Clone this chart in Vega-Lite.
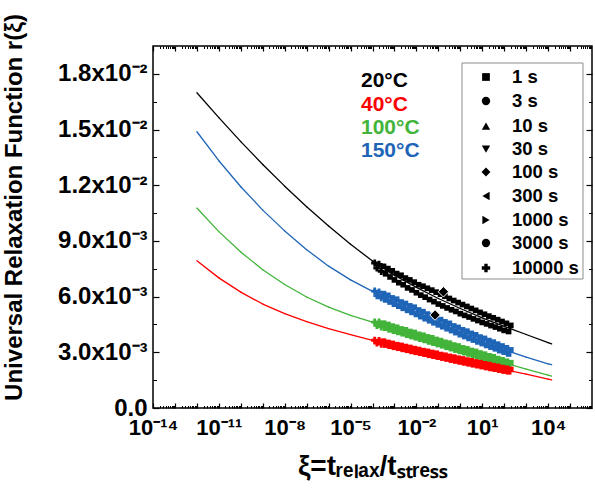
{
"$schema": "https://vega.github.io/schema/vega-lite/v6.json",
"width": 439, "height": 362,
"autosize": {"type": "none"},
"padding": {"left": 153, "top": 46, "right": 3, "bottom": 83},
"background": "white",
"config": {"view": {"stroke": "black", "strokeWidth": 1.5}, "axis": {"grid": false, "domain": false, "tickColor": "black", "labelColor": "black", "titleColor": "black"}},
"encoding": {
 "x": {"field": "xi", "type": "quantitative", "scale": {"type": "log", "domain": [1e-14, 1e6], "nice": false}, "axis": null},
 "y": {"field": "r", "type": "quantitative", "scale": {"domain": [0, 0.0195], "nice": false}, "axis": null}
},
"layer": [
{"data": {"values": [{"xi": 1, "r": 0.01}]},
 "mark": {"type": "point", "opacity": 0},
 "encoding": {
  "x": {"field": "xi", "type": "quantitative", "scale": {"type": "log", "domain": [1e-14, 1e6], "nice": false},
   "axis": {"orient": "bottom", "values": [1e-14,1e-13,1e-12,1e-11,1e-10,1e-9,1e-8,1e-7,1e-6,1e-5,1e-4,1e-3,1e-2,1e-1,1,10,100,1000,10000,100000],
    "tickSize": -5, "tickWidth": 1.2, "labelFlush": false, "labelOverlap": false, "labelPadding": 14, "labelFontSize": 22, "labelFont": "Liberation Sans", "labelFontWeight": "bold",
    "labelExpr": "round(log(datum.value)/LN10) == -14 ? '10⁻¹⁴' : round(log(datum.value)/LN10) == -11 ? '10⁻¹¹' : round(log(datum.value)/LN10) == -8 ? '10⁻⁸' : round(log(datum.value)/LN10) == -5 ? '10⁻⁵' : round(log(datum.value)/LN10) == -2 ? '10⁻²' : round(log(datum.value)/LN10) == 1 ? '10¹' : round(log(datum.value)/LN10) == 4 ? '10⁴' : ''",
    "title": "ξ=tᵣₑₗₐₓ/tₛₜᵣₑₛₛ", "titleFont": "Liberation Sans", "titleFontSize": 28, "titleFontWeight": "bold", "titleY": 66, "titleBaseline": "alphabetic"}},
  "y": {"field": "r", "type": "quantitative", "scale": {"domain": [0, 0.0195], "nice": false},
   "axis": {"orient": "left", "values": [0,0.003,0.006,0.009,0.012,0.015,0.018],
    "tickSize": -6, "tickWidth": 1.2, "labelOverlap": false, "labelPadding": 12, "labelFontSize": 24, "labelFont": "Liberation Sans", "labelFontWeight": "bold",
    "labelExpr": "datum.value < 0.001 ? '0.0' : datum.value < 0.0045 ? '3.0x10⁻³' : datum.value < 0.0075 ? '6.0x10⁻³' : datum.value < 0.0105 ? '9.0x10⁻³' : datum.value < 0.0135 ? '1.2x10⁻²' : datum.value < 0.0165 ? '1.5x10⁻²' : '1.8x10⁻²'",
    "title": "Universal Relaxation Function r(ξ)", "titleFont": "Liberation Sans", "titleFontSize": 24, "titleFontWeight": "bold", "titleX": -139, "titleY": 161, "titleAngle": -90, "titleBaseline": "middle", "titleAlign": "center"}}
 }},
{"data": {"values": [
{"xi":1e-12,"r":0.01698,"xi2":1e-11,"r2":0.01564},{"xi":1e-11,"r":0.01564,"xi2":1e-10,"r2":0.01435},{"xi":1e-10,"r":0.01435,"xi2":1e-9,"r2":0.01312},{"xi":1e-9,"r":0.01312,"xi2":1e-8,"r2":0.01195},{"xi":1e-8,"r":0.01195,"xi2":1e-7,"r2":0.01084},{"xi":1e-7,"r":0.01084,"xi2":1e-6,"r2":0.0098},{"xi":1e-6,"r":0.0098,"xi2":1e-5,"r2":0.00882},{"xi":1e-5,"r":0.00882,"xi2":1e-4,"r2":0.00792},{"xi":1e-4,"r":0.00792,"xi2":1e-3,"r2":0.00716},{"xi":1e-3,"r":0.00716,"xi2":1e-2,"r2":0.0065},{"xi":1e-2,"r":0.0065,"xi2":0.1,"r2":0.0059},{"xi":0.1,"r":0.0059,"xi2":1,"r2":0.00536},{"xi":1,"r":0.00536,"xi2":10,"r2":0.00486},{"xi":10,"r":0.00486,"xi2":100,"r2":0.0044},{"xi":100,"r":0.0044,"xi2":1000,"r2":0.00396},{"xi":1000,"r":0.00396,"xi2":10000,"r2":0.00352},{"xi":10000,"r":0.00352,"xi2":14454,"r2":0.00345}
]},
 "mark": {"type": "rule", "color": "#000000", "strokeWidth": 1.3, "strokeCap": "round"},
 "encoding": {"x2": {"field": "xi2"}, "y2": {"field": "r2"}}},
{"data": {"values": [
{"xi":1e-12,"r":0.01488,"xi2":1e-11,"r2":0.01332},{"xi":1e-11,"r":0.01332,"xi2":1e-10,"r2":0.01192},{"xi":1e-10,"r":0.01192,"xi2":1e-9,"r2":0.01066},{"xi":1e-9,"r":0.01066,"xi2":1e-8,"r2":0.00954},{"xi":1e-8,"r":0.00954,"xi2":1e-7,"r2":0.00853},{"xi":1e-7,"r":0.00853,"xi2":1e-6,"r2":0.00764},{"xi":1e-6,"r":0.00764,"xi2":1e-5,"r2":0.0069},{"xi":1e-5,"r":0.0069,"xi2":1e-4,"r2":0.00628},{"xi":1e-4,"r":0.00628,"xi2":1e-3,"r2":0.00573},{"xi":1e-3,"r":0.00573,"xi2":1e-2,"r2":0.00518},{"xi":1e-2,"r":0.00518,"xi2":0.1,"r2":0.00463},{"xi":0.1,"r":0.00463,"xi2":1,"r2":0.0041},{"xi":1,"r":0.0041,"xi2":10,"r2":0.00362},{"xi":10,"r":0.00362,"xi2":100,"r2":0.00314},{"xi":100,"r":0.00314,"xi2":1000,"r2":0.00274},{"xi":1000,"r":0.00274,"xi2":10000,"r2":0.00238},{"xi":10000,"r":0.00238,"xi2":14454,"r2":0.00233}
]},
 "mark": {"type": "rule", "color": "#1f65b7", "strokeWidth": 1.3, "strokeCap": "round"},
 "encoding": {"x2": {"field": "xi2"}, "y2": {"field": "r2"}}},
{"data": {"values": [
{"xi":1e-12,"r":0.01077,"xi2":1e-11,"r2":0.0095},{"xi":1e-11,"r":0.0095,"xi2":1e-10,"r2":0.0084},{"xi":1e-10,"r":0.0084,"xi2":1e-9,"r2":0.00745},{"xi":1e-9,"r":0.00745,"xi2":1e-8,"r2":0.00665},{"xi":1e-8,"r":0.00665,"xi2":1e-7,"r2":0.00598},{"xi":1e-7,"r":0.00598,"xi2":1e-6,"r2":0.00543},{"xi":1e-6,"r":0.00543,"xi2":1e-5,"r2":0.00499},{"xi":1e-5,"r":0.00499,"xi2":1e-4,"r2":0.00462},{"xi":1e-4,"r":0.00462,"xi2":1e-3,"r2":0.00425},{"xi":1e-3,"r":0.00425,"xi2":1e-2,"r2":0.00389},{"xi":1e-2,"r":0.00389,"xi2":0.1,"r2":0.00353},{"xi":0.1,"r":0.00353,"xi2":1,"r2":0.00316},{"xi":1,"r":0.00316,"xi2":10,"r2":0.0028},{"xi":10,"r":0.0028,"xi2":100,"r2":0.00243},{"xi":100,"r":0.00243,"xi2":1000,"r2":0.0021},{"xi":1000,"r":0.0021,"xi2":10000,"r2":0.00177},{"xi":10000,"r":0.00177,"xi2":14454,"r2":0.00172}
]},
 "mark": {"type": "rule", "color": "#43b43a", "strokeWidth": 1.3, "strokeCap": "round"},
 "encoding": {"x2": {"field": "xi2"}, "y2": {"field": "r2"}}},
{"data": {"values": [
{"xi":1e-12,"r":0.00793,"xi2":1e-11,"r2":0.00701},{"xi":1e-11,"r":0.00701,"xi2":1e-10,"r2":0.00624},{"xi":1e-10,"r":0.00624,"xi2":1e-9,"r2":0.0056},{"xi":1e-9,"r":0.0056,"xi2":1e-8,"r2":0.00508},{"xi":1e-8,"r":0.00508,"xi2":1e-7,"r2":0.00465},{"xi":1e-7,"r":0.00465,"xi2":1e-6,"r2":0.00428},{"xi":1e-6,"r":0.00428,"xi2":1e-5,"r2":0.00395},{"xi":1e-5,"r":0.00395,"xi2":1e-4,"r2":0.00364},{"xi":1e-4,"r":0.00364,"xi2":1e-3,"r2":0.00335},{"xi":1e-3,"r":0.00335,"xi2":1e-2,"r2":0.00308},{"xi":1e-2,"r":0.00308,"xi2":0.1,"r2":0.00282},{"xi":0.1,"r":0.00282,"xi2":1,"r2":0.00256},{"xi":1,"r":0.00256,"xi2":10,"r2":0.00231},{"xi":10,"r":0.00231,"xi2":100,"r2":0.00207},{"xi":100,"r":0.00207,"xi2":1000,"r2":0.00183},{"xi":1000,"r":0.00183,"xi2":10000,"r2":0.00155},{"xi":10000,"r":0.00155,"xi2":14454,"r2":0.00151}
]},
 "mark": {"type": "rule", "color": "#ff0000", "strokeWidth": 1.3, "strokeCap": "round"},
 "encoding": {"x2": {"field": "xi2"}, "y2": {"field": "r2"}}},
{"data": {"values": [
{"xi":3.162e-4,"r":0.00763},{"xi":3.981e-4,"r":0.00723},{"xi":5.012e-4,"r":0.00751},{"xi":6.31e-4,"r":0.00706},{"xi":7.943e-4,"r":0.00739},{"xi":1e-3,"r":0.0069},{"xi":1.259e-3,"r":0.00724},{"xi":1.585e-3,"r":0.00675},{"xi":1.995e-3,"r":0.00715},{"xi":2.512e-3,"r":0.00664},{"xi":3.162e-3,"r":0.007},{"xi":3.981e-3,"r":0.00647},{"xi":5.012e-3,"r":0.0069},{"xi":6.31e-3,"r":0.00636},{"xi":7.943e-3,"r":0.00678},{"xi":1e-2,"r":0.00621},{"xi":1.259e-2,"r":0.00664},{"xi":1.585e-2,"r":0.00608},{"xi":1.995e-2,"r":0.00656},{"xi":2.512e-2,"r":0.00597},{"xi":3.162e-2,"r":0.00645},{"xi":3.981e-2,"r":0.00584},{"xi":5.012e-2,"r":0.00635},{"xi":6.31e-2,"r":0.00573},{"xi":7.943e-2,"r":0.00624},{"xi":0.1,"r":0.0056},{"xi":0.1259,"r":0.00613},{"xi":0.1585,"r":0.0055},{"xi":0.1995,"r":0.00602},{"xi":0.2512,"r":0.00539},{"xi":0.3162,"r":0.0059},{"xi":0.3981,"r":0.00529},{"xi":0.5012,"r":0.00579},{"xi":0.631,"r":0.0052},{"xi":0.7943,"r":0.00568},{"xi":1,"r":0.00508},{"xi":1.259,"r":0.00557},{"xi":1.585,"r":0.00499},{"xi":1.995,"r":0.00547},{"xi":2.512,"r":0.0049},{"xi":3.162,"r":0.00536},{"xi":3.981,"r":0.0048},{"xi":5.012,"r":0.00526},{"xi":6.31,"r":0.00471},{"xi":7.943,"r":0.00515},{"xi":10,"r":0.00461},{"xi":12.59,"r":0.00505},{"xi":15.85,"r":0.00453},{"xi":19.95,"r":0.00495},{"xi":25.12,"r":0.00444},{"xi":31.62,"r":0.00486},{"xi":39.81,"r":0.00436},{"xi":50.12,"r":0.00476},{"xi":63.1,"r":0.00427},{"xi":79.43,"r":0.00466},{"xi":100,"r":0.00418},{"xi":125.9,"r":0.00456},{"xi":158.5,"r":0.00412},{"xi":199.5,"r":0.00445}
]},
 "mark": {"type": "point", "shape": "square", "filled": true, "size": 32, "opacity": 1, "color": "#000000"}},
{"data": {"values": [
{"xi":3.162e-4,"r":0.00616},{"xi":3.981e-4,"r":0.00582},{"xi":5.012e-4,"r":0.00607},{"xi":6.31e-4,"r":0.00571},{"xi":7.943e-4,"r":0.00593},{"xi":1e-3,"r":0.00559},{"xi":1.259e-3,"r":0.00586},{"xi":1.585e-3,"r":0.00548},{"xi":1.995e-3,"r":0.00571},{"xi":2.512e-3,"r":0.00537},{"xi":3.162e-3,"r":0.00563},{"xi":3.981e-3,"r":0.00526},{"xi":5.012e-3,"r":0.0055},{"xi":6.31e-3,"r":0.00515},{"xi":7.943e-3,"r":0.00543},{"xi":1e-2,"r":0.00504},{"xi":1.259e-2,"r":0.00528},{"xi":1.585e-2,"r":0.00492},{"xi":1.995e-2,"r":0.00519},{"xi":2.512e-2,"r":0.00481},{"xi":3.162e-2,"r":0.00506},{"xi":3.981e-2,"r":0.0047},{"xi":5.012e-2,"r":0.00498},{"xi":6.31e-2,"r":0.00459},{"xi":7.943e-2,"r":0.00485},{"xi":0.1,"r":0.00448},{"xi":0.1259,"r":0.00476},{"xi":0.1585,"r":0.00438},{"xi":0.1995,"r":0.00464},{"xi":0.2512,"r":0.00427},{"xi":0.3162,"r":0.00456},{"xi":0.3981,"r":0.00417},{"xi":0.5012,"r":0.00442},{"xi":0.631,"r":0.00406},{"xi":0.7943,"r":0.00434},{"xi":1,"r":0.00395},{"xi":1.259,"r":0.00421},{"xi":1.585,"r":0.00385},{"xi":1.995,"r":0.00414},{"xi":2.512,"r":0.00375},{"xi":3.162,"r":0.00402},{"xi":3.981,"r":0.00366},{"xi":5.012,"r":0.00394},{"xi":6.31,"r":0.00356},{"xi":7.943,"r":0.00382},{"xi":10,"r":0.00347},{"xi":12.59,"r":0.00375},{"xi":15.85,"r":0.00337},{"xi":19.95,"r":0.00363},{"xi":25.12,"r":0.00328},{"xi":31.62,"r":0.00355},{"xi":39.81,"r":0.00319},{"xi":50.12,"r":0.00344},{"xi":63.1,"r":0.00309},{"xi":79.43,"r":0.00334},{"xi":100,"r":0.00301},{"xi":125.9,"r":0.00324},{"xi":158.5,"r":0.00291},{"xi":199.5,"r":0.00313}
]},
 "mark": {"type": "point", "shape": "square", "filled": true, "size": 32, "opacity": 1, "color": "#1f65b7"}},
{"data": {"values": [
{"xi":3.162e-4,"r":0.00457},{"xi":3.981e-4,"r":0.0043},{"xi":5.012e-4,"r":0.0045},{"xi":6.31e-4,"r":0.00421},{"xi":7.943e-4,"r":0.00441},{"xi":1e-3,"r":0.00414},{"xi":1.259e-3,"r":0.00435},{"xi":1.585e-3,"r":0.00407},{"xi":1.995e-3,"r":0.00426},{"xi":2.512e-3,"r":0.004},{"xi":3.162e-3,"r":0.00421},{"xi":3.981e-3,"r":0.00392},{"xi":5.012e-3,"r":0.00412},{"xi":6.31e-3,"r":0.00385},{"xi":7.943e-3,"r":0.00407},{"xi":1e-2,"r":0.00378},{"xi":1.259e-2,"r":0.00397},{"xi":1.585e-2,"r":0.00371},{"xi":1.995e-2,"r":0.00392},{"xi":2.512e-2,"r":0.00364},{"xi":3.162e-2,"r":0.00383},{"xi":3.981e-2,"r":0.00356},{"xi":5.012e-2,"r":0.00378},{"xi":6.31e-2,"r":0.00349},{"xi":7.943e-2,"r":0.00369},{"xi":0.1,"r":0.00342},{"xi":0.1259,"r":0.00363},{"xi":0.1585,"r":0.00335},{"xi":0.1995,"r":0.00354},{"xi":0.2512,"r":0.00327},{"xi":0.3162,"r":0.00349},{"xi":0.3981,"r":0.0032},{"xi":0.5012,"r":0.00339},{"xi":0.631,"r":0.00312},{"xi":0.7943,"r":0.00334},{"xi":1,"r":0.00305},{"xi":1.259,"r":0.00324},{"xi":1.585,"r":0.00298},{"xi":1.995,"r":0.00319},{"xi":2.512,"r":0.00291},{"xi":3.162,"r":0.0031},{"xi":3.981,"r":0.00283},{"xi":5.012,"r":0.00305},{"xi":6.31,"r":0.00276},{"xi":7.943,"r":0.00296},{"xi":10,"r":0.00269},{"xi":12.59,"r":0.0029},{"xi":15.85,"r":0.00262},{"xi":19.95,"r":0.00281},{"xi":25.12,"r":0.00254},{"xi":31.62,"r":0.00276},{"xi":39.81,"r":0.00247},{"xi":50.12,"r":0.00266},{"xi":63.1,"r":0.00239},{"xi":79.43,"r":0.0026},{"xi":100,"r":0.00233},{"xi":125.9,"r":0.00252},{"xi":158.5,"r":0.00227},{"xi":199.5,"r":0.00244}
]},
 "mark": {"type": "point", "shape": "square", "filled": true, "size": 32, "opacity": 1, "color": "#43b43a"}},
{"data": {"values": [
{"xi":3.162e-4,"r":0.0036},{"xi":3.981e-4,"r":0.00339},{"xi":5.012e-4,"r":0.00353},{"xi":6.31e-4,"r":0.00333},{"xi":7.943e-4,"r":0.00348},{"xi":1e-3,"r":0.00327},{"xi":1.259e-3,"r":0.00341},{"xi":1.585e-3,"r":0.00322},{"xi":1.995e-3,"r":0.00337},{"xi":2.512e-3,"r":0.00316},{"xi":3.162e-3,"r":0.00331},{"xi":3.981e-3,"r":0.00311},{"xi":5.012e-3,"r":0.00326},{"xi":6.31e-3,"r":0.00305},{"xi":7.943e-3,"r":0.0032},{"xi":1e-2,"r":0.003},{"xi":1.259e-2,"r":0.00315},{"xi":1.585e-2,"r":0.00295},{"xi":1.995e-2,"r":0.00309},{"xi":2.512e-2,"r":0.0029},{"xi":3.162e-2,"r":0.00305},{"xi":3.981e-2,"r":0.00284},{"xi":5.012e-2,"r":0.00299},{"xi":6.31e-2,"r":0.00279},{"xi":7.943e-2,"r":0.00295},{"xi":0.1,"r":0.00274},{"xi":0.1259,"r":0.00288},{"xi":0.1585,"r":0.00269},{"xi":0.1995,"r":0.00284},{"xi":0.2512,"r":0.00264},{"xi":0.3162,"r":0.00278},{"xi":0.3981,"r":0.00258},{"xi":0.5012,"r":0.00274},{"xi":0.631,"r":0.00253},{"xi":0.7943,"r":0.00268},{"xi":1,"r":0.00248},{"xi":1.259,"r":0.00264},{"xi":1.585,"r":0.00243},{"xi":1.995,"r":0.00258},{"xi":2.512,"r":0.00238},{"xi":3.162,"r":0.00254},{"xi":3.981,"r":0.00233},{"xi":5.012,"r":0.00248},{"xi":6.31,"r":0.00228},{"xi":7.943,"r":0.00244},{"xi":10,"r":0.00223},{"xi":12.59,"r":0.00238},{"xi":15.85,"r":0.00218},{"xi":19.95,"r":0.00234},{"xi":25.12,"r":0.00213},{"xi":31.62,"r":0.00228},{"xi":39.81,"r":0.00209},{"xi":50.12,"r":0.00224},{"xi":63.1,"r":0.00204},{"xi":79.43,"r":0.00218},{"xi":100,"r":0.00199},{"xi":125.9,"r":0.00214},{"xi":158.5,"r":0.00195},{"xi":199.5,"r":0.00208}
]},
 "mark": {"type": "point", "shape": "square", "filled": true, "size": 32, "opacity": 1, "color": "#ff0000"}},
{"data": {"values": [{"xi":1.259e-4,"r":0.00781},{"xi":1.585e-4,"r":0.00754},{"xi":1.995e-4,"r":0.00774},{"xi":2.512e-4,"r":0.00736}]},
 "mark": {"type": "point", "shape": "cross", "filled": true, "size": 50, "opacity": 1, "color": "#000000"}},
{"data": {"values": [{"xi":1.259e-4,"r":0.0063},{"xi":1.585e-4,"r":0.00605},{"xi":1.995e-4,"r":0.00624},{"xi":2.512e-4,"r":0.00594}]},
 "mark": {"type": "point", "shape": "cross", "filled": true, "size": 50, "opacity": 1, "color": "#1f65b7"}},
{"data": {"values": [{"xi":1.259e-4,"r":0.00463},{"xi":1.585e-4,"r":0.00445},{"xi":1.995e-4,"r":0.00463},{"xi":2.512e-4,"r":0.00437}]},
 "mark": {"type": "point", "shape": "cross", "filled": true, "size": 50, "opacity": 1, "color": "#43b43a"}},
{"data": {"values": [{"xi":1.259e-4,"r":0.00365},{"xi":1.585e-4,"r":0.0035},{"xi":1.995e-4,"r":0.00363},{"xi":2.512e-4,"r":0.00344}]},
 "mark": {"type": "point", "shape": "cross", "filled": true, "size": 50, "opacity": 1, "color": "#ff0000"}},
{"data": {"values": [{"xi":0.0708,"r":0.00501},{"xi":0.17,"r":0.00626}]},
 "mark": {"type": "point", "shape": "diamond", "filled": true, "size": 110, "opacity": 1, "color": "#000000", "stroke": "white", "strokeWidth": 1}},
{"data": {"values": [{"xi":1.195,"r":0.018584,"xi2":389000,"r2":0.006949}]},
 "mark": {"type": "rect", "fill": "white", "stroke": "#8c8c8c", "strokeWidth": 1},
 "encoding": {"x2": {"field": "xi2"}, "y2": {"field": "r2"}}},
{"data": {"values": [{"t":"1 s","xi":14.8,"r":0.01783}]},
 "mark": {"type": "point", "shape": "square", "filled": true, "size": 60, "opacity": 1, "color": "#000000"}},
{"data": {"values": [{"t":"3 s","xi":14.8,"r":0.01654},{"t":"3000 s","xi":14.8,"r":0.00889}]},
 "mark": {"type": "point", "shape": "circle", "filled": true, "size": 70, "opacity": 1, "color": "#000000"}},
{"data": {"values": [{"t":"10 s","xi":14.8,"r":0.01519}]},
 "mark": {"type": "point", "shape": "triangle-up", "filled": true, "size": 70, "opacity": 1, "color": "#000000"}},
{"data": {"values": [{"t":"30 s","xi":14.8,"r":0.01395}]},
 "mark": {"type": "point", "shape": "triangle-down", "filled": true, "size": 70, "opacity": 1, "color": "#000000"}},
{"data": {"values": [{"t":"100 s","xi":14.8,"r":0.01271}]},
 "mark": {"type": "point", "shape": "diamond", "filled": true, "size": 80, "opacity": 1, "color": "#000000"}},
{"data": {"values": [{"t":"300 s","xi":14.8,"r":0.01142}]},
 "mark": {"type": "point", "shape": "triangle-left", "filled": true, "size": 70, "opacity": 1, "color": "#000000"}},
{"data": {"values": [{"t":"1000 s","xi":14.8,"r":0.01013}]},
 "mark": {"type": "point", "shape": "triangle-right", "filled": true, "size": 70, "opacity": 1, "color": "#000000"}},
{"data": {"values": [{"t":"10000 s","xi":14.8,"r":0.00754}]},
 "mark": {"type": "point", "shape": "cross", "filled": true, "size": 70, "opacity": 1, "color": "#000000"}},
{"data": {"values": [
{"label":"1 s","xi":226.7,"r":0.01783},{"label":"3 s","xi":226.7,"r":0.01654},{"label":"10 s","xi":226.7,"r":0.01519},{"label":"30 s","xi":226.7,"r":0.01395},{"label":"100 s","xi":226.7,"r":0.01271},{"label":"300 s","xi":226.7,"r":0.01142},{"label":"1000 s","xi":226.7,"r":0.01013},{"label":"3000 s","xi":226.7,"r":0.00889},{"label":"10000 s","xi":226.7,"r":0.00754}
]},
 "mark": {"type": "text", "align": "left", "baseline": "middle", "font": "Liberation Sans", "fontWeight": "bold", "fontSize": 18.5, "color": "#000000"},
 "encoding": {"text": {"field": "label", "type": "nominal"}}},
{"data": {"values": [{"label":"20°C","xi":2.99e-5,"r":0.01762}]},
 "mark": {"type": "text", "align": "left", "baseline": "middle", "font": "Liberation Sans", "fontWeight": "bold", "fontSize": 21, "color": "#000000"},
 "encoding": {"text": {"field": "label", "type": "nominal"}}},
{"data": {"values": [{"label":"40°C","xi":2.99e-5,"r":0.01634}]},
 "mark": {"type": "text", "align": "left", "baseline": "middle", "font": "Liberation Sans", "fontWeight": "bold", "fontSize": 21, "color": "#ff0000"},
 "encoding": {"text": {"field": "label", "type": "nominal"}}},
{"data": {"values": [{"label":"100°C","xi":2.99e-5,"r":0.01508}]},
 "mark": {"type": "text", "align": "left", "baseline": "middle", "font": "Liberation Sans", "fontWeight": "bold", "fontSize": 21, "color": "#43b43a"},
 "encoding": {"text": {"field": "label", "type": "nominal"}}},
{"data": {"values": [{"label":"150°C","xi":2.99e-5,"r":0.01384}]},
 "mark": {"type": "text", "align": "left", "baseline": "middle", "font": "Liberation Sans", "fontWeight": "bold", "fontSize": 21, "color": "#1f65b7"},
 "encoding": {"text": {"field": "label", "type": "nominal"}}},
{"data": {"values": [{"xi": 1, "r": 0.01}]},
 "mark": {"type": "point", "opacity": 0},
 "encoding": {
  "x": {"field": "xi", "type": "quantitative", "scale": {"type": "log", "domain": [1e-14, 1e6], "nice": false},
   "axis": {"orient": "bottom", "values": [2e-14,3e-14,4e-14,5e-14,6e-14,7e-14,8e-14,9e-14,2e-13,3e-13,4e-13,5e-13,6e-13,7e-13,8e-13,9e-13,2e-12,3e-12,4e-12,5e-12,6e-12,7e-12,8e-12,9e-12,2e-11,3e-11,4e-11,5e-11,6e-11,7e-11,8e-11,9e-11,2e-10,3e-10,4e-10,5e-10,6e-10,7e-10,8e-10,9e-10,2e-9,3e-9,4e-9,5e-9,6e-9,7e-9,8e-9,9e-9,2e-8,3e-8,4e-8,5e-8,6e-8,7e-8,8e-8,9e-8,2e-7,3e-7,4e-7,5e-7,6e-7,7e-7,8e-7,9e-7,2e-6,3e-6,4e-6,5e-6,6e-6,7e-6,8e-6,9e-6,2e-5,3e-5,4e-5,5e-5,6e-5,7e-5,8e-5,9e-5,2e-4,3e-4,4e-4,5e-4,6e-4,7e-4,8e-4,9e-4,2e-3,3e-3,4e-3,5e-3,6e-3,7e-3,8e-3,9e-3,0.02,0.03,0.04,0.05,0.06,0.07,0.08,0.09,0.2,0.3,0.4,0.5,0.6,0.7,0.8,0.9,2,3,4,5,6,7,8,9,20,30,40,50,60,70,80,90,200,300,400,500,600,700,800,900,2000,3000,4000,5000,6000,7000,8000,9000,20000,30000,40000,50000,60000,70000,80000,90000,200000,300000,400000,500000,600000,700000,800000,900000],
    "tickSize": -2.5, "tickWidth": 1, "labels": false, "title": null}},
  "y": {"field": "r", "type": "quantitative", "scale": {"domain": [0, 0.0195], "nice": false},
   "axis": {"orient": "left", "values": [0.0015,0.0045,0.0075,0.0105,0.0135,0.0165], "tickSize": -3.5, "tickWidth": 1, "labels": false, "title": null}}
 }},
{"data": {"values": [{"xi": 1, "r": 0.01}]},
 "mark": {"type": "point", "opacity": 0},
 "encoding": {
  "x": {"field": "xi", "type": "quantitative", "scale": {"type": "log", "domain": [1e-14, 1e6], "nice": false},
   "axis": {"orient": "top", "values": [1e-14,1e-13,1e-12,1e-11,1e-10,1e-9,1e-8,1e-7,1e-6,1e-5,1e-4,1e-3,1e-2,1e-1,1,10,100,1000,10000,100000], "tickSize": -5, "tickWidth": 1.2, "labels": false, "title": null}},
  "y": {"field": "r", "type": "quantitative", "scale": {"domain": [0, 0.0195], "nice": false},
   "axis": {"orient": "right", "values": [0,0.003,0.006,0.009,0.012,0.015,0.018], "tickSize": -6, "tickWidth": 1.2, "labels": false, "title": null}}
 }},
{"data": {"values": [{"xi": 1, "r": 0.01}]},
 "mark": {"type": "point", "opacity": 0},
 "encoding": {
  "x": {"field": "xi", "type": "quantitative", "scale": {"type": "log", "domain": [1e-14, 1e6], "nice": false},
   "axis": {"orient": "top", "values": [2e-14,3e-14,4e-14,5e-14,6e-14,7e-14,8e-14,9e-14,2e-13,3e-13,4e-13,5e-13,6e-13,7e-13,8e-13,9e-13,2e-12,3e-12,4e-12,5e-12,6e-12,7e-12,8e-12,9e-12,2e-11,3e-11,4e-11,5e-11,6e-11,7e-11,8e-11,9e-11,2e-10,3e-10,4e-10,5e-10,6e-10,7e-10,8e-10,9e-10,2e-9,3e-9,4e-9,5e-9,6e-9,7e-9,8e-9,9e-9,2e-8,3e-8,4e-8,5e-8,6e-8,7e-8,8e-8,9e-8,2e-7,3e-7,4e-7,5e-7,6e-7,7e-7,8e-7,9e-7,2e-6,3e-6,4e-6,5e-6,6e-6,7e-6,8e-6,9e-6,2e-5,3e-5,4e-5,5e-5,6e-5,7e-5,8e-5,9e-5,2e-4,3e-4,4e-4,5e-4,6e-4,7e-4,8e-4,9e-4,2e-3,3e-3,4e-3,5e-3,6e-3,7e-3,8e-3,9e-3,0.02,0.03,0.04,0.05,0.06,0.07,0.08,0.09,0.2,0.3,0.4,0.5,0.6,0.7,0.8,0.9,2,3,4,5,6,7,8,9,20,30,40,50,60,70,80,90,200,300,400,500,600,700,800,900,2000,3000,4000,5000,6000,7000,8000,9000,20000,30000,40000,50000,60000,70000,80000,90000,200000,300000,400000,500000,600000,700000,800000,900000],
    "tickSize": -2.5, "tickWidth": 1, "labels": false, "title": null}},
  "y": {"field": "r", "type": "quantitative", "scale": {"domain": [0, 0.0195], "nice": false},
   "axis": {"orient": "right", "values": [0.0015,0.0045,0.0075,0.0105,0.0135,0.0165], "tickSize": -3.5, "tickWidth": 1, "labels": false, "title": null}}
 }}
],
"resolve": {"axis": {"x": "independent", "y": "independent"}}
}
